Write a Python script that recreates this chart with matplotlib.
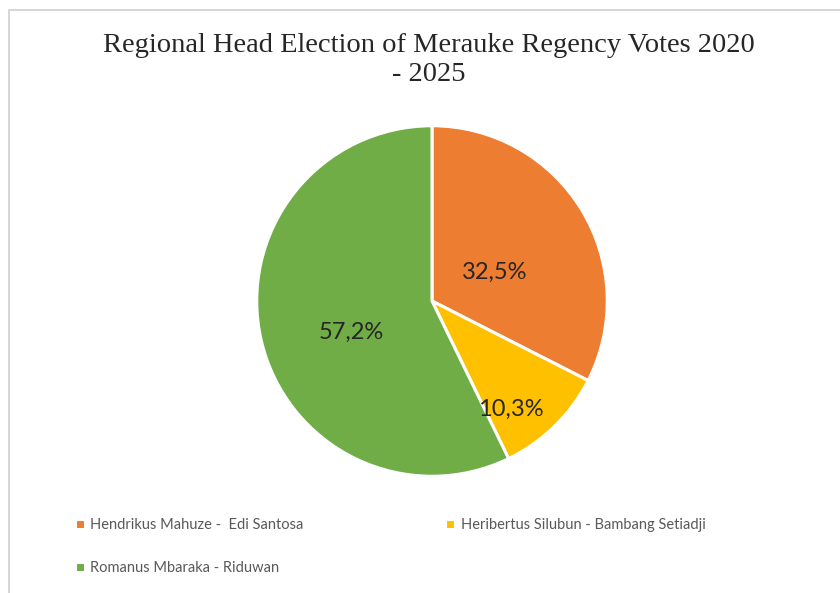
import matplotlib
matplotlib.use("Agg")
import matplotlib.pyplot as plt
import numpy as np

CANDIDATES = ["Hendrikus Mahuze -  Edi Santosa",
              "Heribertus Silubun - Bambang Setiadji",
              "Romanus Mbaraka - Riduwan"]
SHARES = [32.5, 10.3, 57.2]
COLORS = ["#ED7D31", "#FFC000", "#70AD47"]
# label placement per slice: (fraction of the slice sweep, distance as fraction of radius)
LABEL_FRAC = [0.545, 0.72, 0.465]
LABEL_DIST = [0.40, 0.756, 0.493]

fig = plt.figure(figsize=(8.4, 5.93), dpi=100)

# light frame like the spreadsheet chart area
frame = plt.Rectangle((9 / 840, -0.01), 1.0, 1.0 - 10 / 593 + 0.01,
                      transform=fig.transFigure, fill=False,
                      edgecolor="#d0d0d0", linewidth=1.2)
fig.patches.append(frame)

ax = fig.add_axes([(432 - 177) / 840, (593 - 301 - 177) / 593, 354 / 840, 354 / 593])
wedges, _ = ax.pie(SHARES, colors=COLORS, startangle=90, counterclock=False,
                   wedgeprops=dict(edgecolor="white", linewidth=2.2))
ax.set_xlim(-1.01, 1.01)
ax.set_ylim(-1.01, 1.01)
ax.set_aspect("equal")

for w, v, f, d in zip(wedges, SHARES, LABEL_FRAC, LABEL_DIST):
    # clockwise pie: sweep runs from theta2 down to theta1
    ang = np.deg2rad(w.theta2 - f * (w.theta2 - w.theta1))
    ax.text(d * np.cos(ang), d * np.sin(ang), f"{v:.1f}%".replace(".", ","),
            ha="center", va="center_baseline", fontsize=17, family="Lato", color="#262626")

fig.text(0.51, 1 - 60 / 593, "Regional Head Election of Merauke Regency Votes 2020\n- 2025",
         ha="center", va="center", fontsize=20.5, family="Liberation Serif",
         color="#262626", linespacing=1.2)

# matplotlib fills legend columns first; reorder so rows read left to right
order = [0, 2, 1]
fig.legend([wedges[i] for i in order], [CANDIDATES[i] for i in order],
           loc="upper left", bbox_to_anchor=(62 / 840, 1 - 505 / 593),
           ncol=2, frameon=False, handlelength=0.65, handleheight=0.65, handletextpad=0.4,
           columnspacing=9.7, labelspacing=2.0,
           prop={"family": "Lato", "size": 10.5},
           labelcolor="#595959")

fig.savefig("out.png", dpi=100)
